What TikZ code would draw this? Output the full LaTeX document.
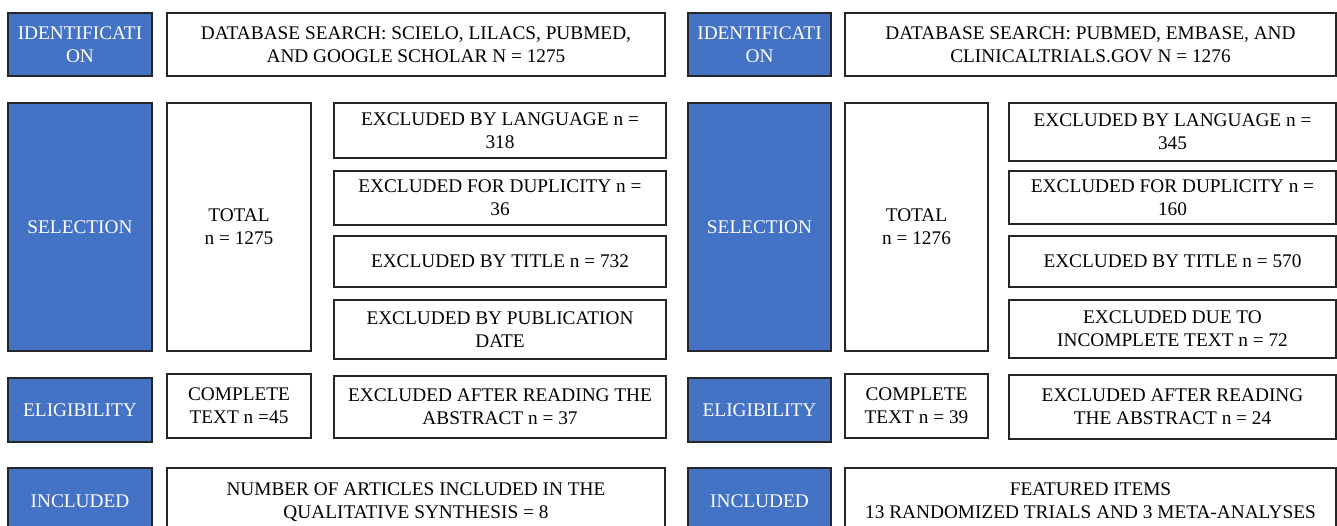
\documentclass[tikz,border=0pt]{standalone}
\usepackage{fontspec}
\setmainfont{Liberation Serif}
\definecolor{stageblue}{RGB}{68,114,196}
\tikzset{
	stagebox/.style={draw=black!85, line width=1.3pt, fill=stageblue, text=white,
		align=center, inner sep=0pt, text depth=0pt, font=\fontsize{19.3}{23}\selectfont},
	infobox/.style={draw=black!85, line width=1.3pt, fill=white, text=black,
		align=center, inner sep=0pt, text depth=0pt, font=\fontsize{19.3}{23}\selectfont}
}
\begin{document}
\begin{tikzpicture}[x=1pt, y=-1pt]
	\useasboundingbox (0,0) rectangle (1337,526);
	% Linke Seite
	\node[stagebox, minimum width=144, minimum height=63] (idL) at (80, 44.5) {IDENTIFICATI\\ON};
	\node[infobox, minimum width=498, minimum height=63] (dbL) at (416, 44.5) {DATABASE SEARCH: SCIELO, LILACS, PUBMED,\\AND GOOGLE SCHOLAR N = 1275};
	\node[stagebox, minimum width=144, minimum height=248] (selL) at (80, 227) {SELECTION};
	\node[infobox, minimum width=144, minimum height=248] (totL) at (239, 227) {TOTAL\\n = 1275};
	\node[infobox, minimum width=332, minimum height=55] (langL) at (500, 130.5) {EXCLUDED BY LANGUAGE n =\\318};
	\node[infobox, minimum width=332, minimum height=54] (dupL) at (500, 198) {EXCLUDED FOR DUPLICITY n =\\36};
	\node[infobox, minimum width=332, minimum height=51] (titL) at (500, 261.5) {EXCLUDED BY TITLE n = 732};
	\node[infobox, minimum width=332, minimum height=59] (pubL) at (500, 329.5) {EXCLUDED BY PUBLICATION\\DATE};
	\node[stagebox, minimum width=144, minimum height=64] (eliL) at (80, 410) {ELIGIBILITY};
	\node[infobox, minimum width=144, minimum height=64] (comL) at (239, 406) {COMPLETE\\TEXT n =45};
	\node[infobox, minimum width=332, minimum height=62] (absL) at (500, 407) {EXCLUDED AFTER READING THE\\ABSTRACT n = 37};
	\node[stagebox, minimum width=144, minimum height=66] (incL) at (80, 501) {INCLUDED};
	\node[infobox, minimum width=498, minimum height=66] (synL) at (416, 501) {NUMBER OF ARTICLES INCLUDED IN THE\\QUALITATIVE SYNTHESIS = 8};

	% Rechte Seite
	\node[stagebox, minimum width=143, minimum height=63] (idR) at (759.5, 44.5) {IDENTIFICATI\\ON};
	\node[infobox, minimum width=491, minimum height=63] (dbR) at (1090.5, 44.5) {DATABASE SEARCH: PUBMED, EMBASE, AND\\CLINICALTRIALS.GOV N = 1276};
	\node[stagebox, minimum width=143, minimum height=248] (selR) at (759.5, 227) {SELECTION};
	\node[infobox, minimum width=143, minimum height=248] (totR) at (916.5, 227) {TOTAL\\n = 1276};
	\node[infobox, minimum width=327, minimum height=58] (langR) at (1172.5, 132) {EXCLUDED BY LANGUAGE n =\\345};
	\node[infobox, minimum width=327, minimum height=53] (dupR) at (1172.5, 197.5) {EXCLUDED FOR DUPLICITY n =\\160};
	\node[infobox, minimum width=327, minimum height=51] (titR) at (1172.5, 261.5) {EXCLUDED BY TITLE n = 570};
	\node[infobox, minimum width=327, minimum height=58] (incR) at (1172.5, 329) {EXCLUDED DUE TO\\INCOMPLETE TEXT n = 72};
	\node[stagebox, minimum width=143, minimum height=64] (eliR) at (759.5, 410) {ELIGIBILITY};
	\node[infobox, minimum width=143, minimum height=64] (comR) at (916.5, 406) {COMPLETE\\TEXT n = 39};
	\node[infobox, minimum width=327, minimum height=64] (absR) at (1172.5, 407) {EXCLUDED AFTER READING\\THE ABSTRACT n = 24};
	\node[stagebox, minimum width=143, minimum height=66] (inclR) at (759.5, 501) {INCLUDED};
	\node[infobox, minimum width=491, minimum height=66] (featR) at (1090.5, 501) {FEATURED ITEMS\\13 RANDOMIZED TRIALS AND 3 META-ANALYSES};
\end{tikzpicture}
\end{document}
